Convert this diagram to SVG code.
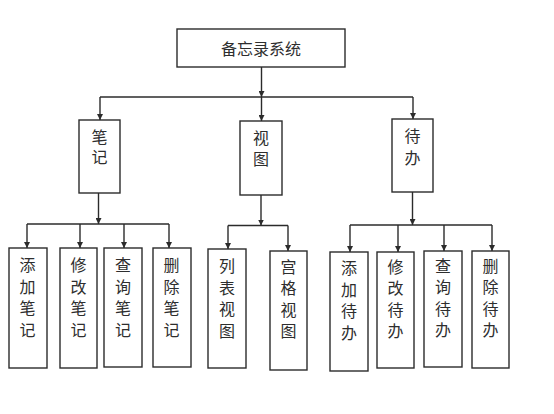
<svg xmlns="http://www.w3.org/2000/svg" width="554" height="414" viewBox="0 0 554 414">
<style>
.box{fill:#fff;stroke:#2b2b2b;stroke-width:1.4}
.t{font-family:"Noto Sans CJK SC","Noto Sans CJK JP",sans-serif;font-size:16px;fill:#2e2e2e;text-anchor:middle;dominant-baseline:central}
.v{font-family:"Noto Sans CJK SC","Noto Sans CJK JP",sans-serif;font-size:16px;fill:#2e2e2e;writing-mode:vertical-rl;text-anchor:start;letter-spacing:5.5px}
.c{fill:none;stroke:#2b2b2b;stroke-width:1.4}
.a{marker-end:url(#arr)}
</style>
<defs>
<marker id="arr" markerUnits="userSpaceOnUse" markerWidth="7" markerHeight="6" refX="6" refY="3" orient="auto">
<path d="M0,0 L6,3 L0,6 z" fill="#2b2b2b"/>
</marker>
</defs>
<rect width="554" height="414" fill="#fff"/>
<g id="connectors">
<path class="c a" d="M261.5,67 V97"/>
<path class="c" d="M100,97 H413"/>
<path class="c a" d="M100,97 V120"/>
<path class="c a" d="M261.5,97 V121"/>
<path class="c a" d="M413,97 V119"/>
<path class="c a" d="M98.5,193 V224"/>
<path class="c" d="M27,224 H169"/>
<path class="c a" d="M27,224 V248"/>
<path class="c a" d="M80,224 V248"/>
<path class="c a" d="M124,224 V248"/>
<path class="c a" d="M169,224 V248"/>
<path class="c a" d="M261,195 V225.5"/>
<path class="c" d="M228,225.5 H288"/>
<path class="c a" d="M228,225.5 V249"/>
<path class="c a" d="M288,225.5 V251"/>
<path class="c a" d="M412.5,192 V225"/>
<path class="c" d="M350,225 H492"/>
<path class="c a" d="M350,225 V252"/>
<path class="c a" d="M398,225 V252"/>
<path class="c a" d="M444,225 V251"/>
<path class="c a" d="M492,225 V251"/>
</g>
<g id="root"><rect class="box" x="177" y="29" width="168" height="38"/><text class="t" x="261" y="47.5">备忘录系统</text></g>
<g id="notes"><rect class="box" x="79" y="120" width="41" height="73"/><text class="v" x="99.5" y="129" style="letter-spacing:4px">笔记</text></g>
<g id="views"><rect class="box" x="240" y="121" width="42" height="74"/><text class="v" x="261" y="129.5" style="letter-spacing:5px">视图</text></g>
<g id="todos"><rect class="box" x="392" y="119" width="41" height="73"/><text class="v" x="412.5" y="128" style="letter-spacing:6px">待办</text></g>
<g id="add-note"><rect class="box" x="9" y="248" width="38" height="120"/><text class="v" x="27.5" y="257">添加笔记</text></g>
<g id="edit-note"><rect class="box" x="60" y="248" width="37" height="120"/><text class="v" x="78.5" y="257">修改笔记</text></g>
<g id="query-note"><rect class="box" x="104" y="248" width="38" height="119"/><text class="v" x="123" y="257">查询笔记</text></g>
<g id="delete-note"><rect class="box" x="153" y="248" width="38" height="119"/><text class="v" x="171.5" y="257">删除笔记</text></g>
<g id="list-view"><rect class="box" x="208" y="249" width="38" height="119"/><text class="v" x="227" y="258">列表视图</text></g>
<g id="grid-view"><rect class="box" x="270" y="251" width="37" height="119"/><text class="v" x="288.5" y="258.5">宫格视图</text></g>
<g id="add-todo"><rect class="box" x="330" y="252" width="38" height="119"/><text class="v" x="349" y="260">添加待办</text></g>
<g id="edit-todo"><rect class="box" x="377" y="252" width="37" height="116"/><text class="v" x="395.5" y="258.5">修改待办</text></g>
<g id="query-todo"><rect class="box" x="424" y="251" width="38" height="116"/><text class="v" x="443" y="257.5">查询待办</text></g>
<g id="delete-todo"><rect class="box" x="472" y="251" width="37" height="117"/><text class="v" x="490.5" y="257.5">删除待办</text></g>
</svg>
